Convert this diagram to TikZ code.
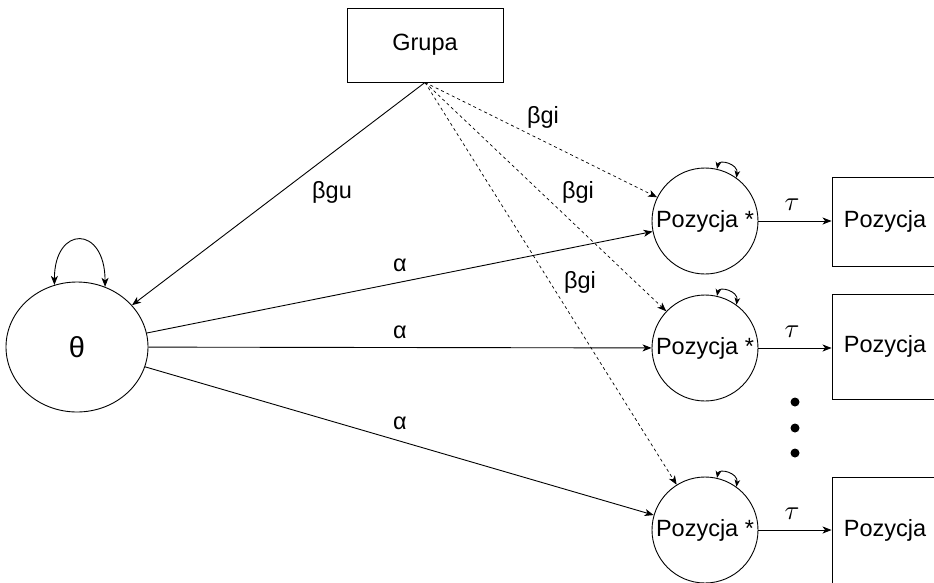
\documentclass[tikz,border=0pt]{standalone}
\usepackage{fontspec}
\setmainfont{Liberation Sans}
\usetikzlibrary{arrows.meta,shapes.geometric}
\newcommand{\mytau}{{\fontsize{10}{12}\selectfont\scalebox{2.7}{$\tau$}}}
\begin{document}
\begin{tikzpicture}[x=1pt,y=-1pt, line width=0.9pt,
  every node/.style={font=\fontsize{23.5}{27}\selectfont},
  arr/.style={-{Stealth[length=9pt,width=7pt,inset=2.5pt]}},
  darr/.style={arr, dash pattern=on 3pt off 3pt, line width=0.7pt},
  biarr/.style={{Stealth[length=9pt,width=7pt,inset=2.5pt]}-{Stealth[length=9pt,width=7pt,inset=2.5pt]}},
  smallbi/.style={{Stealth[length=7pt,width=5.5pt,inset=2pt]}-{Stealth[length=7pt,width=5.5pt,inset=2pt]}},
  latent/.style={draw, circle, minimum size=106pt, inner sep=0pt},
  obs/.style={draw, rectangle, minimum width=106pt, minimum height=#1, inner sep=0pt},
  lbl/.style={inner sep=1pt},
  dot/.style={circle, fill, inner sep=0pt, minimum size=9pt}
]
\useasboundingbox (0,0) rectangle (934,582);

\node[draw, rectangle, minimum width=156pt, minimum height=74pt] (grupa) at (425,45) {Grupa};
\node[draw, ellipse, minimum width=142pt, minimum height=130pt, inner sep=0pt,
      font=\fontsize{29}{33}\selectfont] (theta) at (77,347) {θ};

\node[latent] (p1) at (705,221) {Pozycja *};
\node[latent] (p2) at (705,348) {Pozycja *};
\node[latent] (p3) at (705,530) {Pozycja *};

\node[obs=89pt] (r1) at (885,221.5) {Pozycja};
\node[obs=105pt] (r2) at (885,346.5) {Pozycja};
\node[obs=106pt] (r3) at (885,530) {Pozycja};

\node[dot] (d1) at (795,402) {};
\node[dot] (d2) at (795,428) {};
\node[dot] (d3) at (795,453) {};

% edges
\draw[arr] (grupa.south) -- (theta);
\draw[darr] (grupa.south) -- (p1);
\draw[darr] (grupa.south) -- (p2);
\draw[darr] (grupa.south) -- (p3);

\draw[arr] (theta) -- (p1);
\draw[arr] (theta) -- (p2);
\draw[arr] (theta) -- (p3);

\draw[arr] (p1) -- (r1.west |- p1);
\draw[arr] (p2) -- (r2.west |- p2);
\draw[arr] (p3) -- (r3.west |- p3);

% loops
\draw[biarr] (theta.110) .. controls +(0,-60) and +(0,-62) .. (theta.65);
\draw[smallbi] (p1.77) .. controls +(2,-10) and +(2,-14) .. (p1.54);
\draw[smallbi] (p2.77) .. controls +(2,-10) and +(2,-14) .. (p2.54);
\draw[smallbi] (p3.77) .. controls +(2,-10) and +(2,-14) .. (p3.54);

% labels
\node[lbl] (lgu) at (332,192) {βgu};
\node[lbl] (lgi1) at (543,117) {βgi};
\node[lbl] (lgi2) at (578,192) {βgi};
\node[lbl] (lgi3) at (580,282) {βgi};
\node[lbl] (la1) at (400,265) {α};
\node[lbl] (la2) at (400,332) {α};
\node[lbl] (la3) at (400,423) {α};
\node[lbl] (lt1) at (792,205) {\mytau};
\node[lbl] (lt2) at (792,332) {\mytau};
\node[lbl] (lt3) at (792,514) {\mytau};
\end{tikzpicture}
\end{document}
